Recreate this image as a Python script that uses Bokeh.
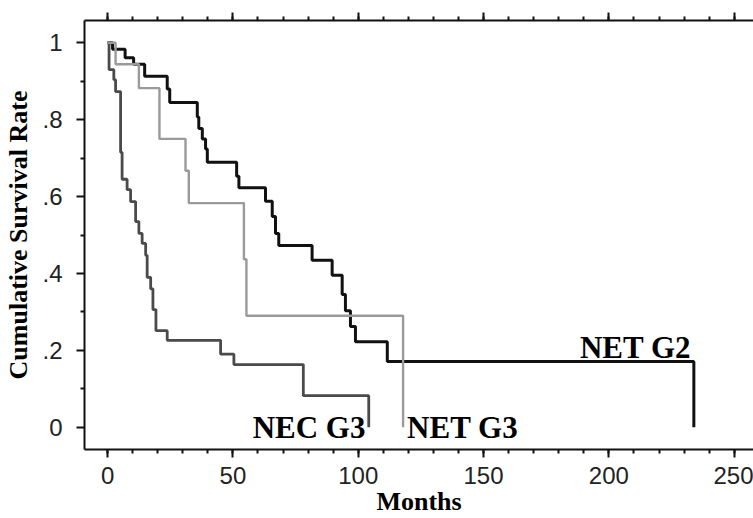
from bokeh.plotting import figure
from bokeh.models import Range1d, LinearAxis, FixedTicker, Label
from bokeh.embed import file_html
from bokeh.resources import INLINE

# ---- data ----
net_g2_months = [0, 2, 7, 10.4, 14.8, 23.8, 24.8, 35.8, 36.4, 37.8, 39.1, 39.8, 40.4,
                 51.5, 52.4, 63.0, 65.7, 67.0, 68.3, 81.6, 89.6, 93.6, 94.9, 96.9,
                 98.9, 111.6, 233.9]
net_g2_surv = [1.0, 0.983, 0.961, 0.944, 0.913, 0.88, 0.845, 0.807, 0.777, 0.750,
               0.724, 0.689, 0.689, 0.653, 0.623, 0.588, 0.548, 0.504, 0.473, 0.434,
               0.395, 0.345, 0.303, 0.262, 0.222, 0.171, 0.0]

net_g3_months = [0, 3.2, 12.5, 20.7, 31.1, 32.4, 54.4, 55.4, 117.9]
net_g3_surv = [1.0, 0.944, 0.882, 0.750, 0.667, 0.583, 0.437, 0.290, 0.0]

nec_g3_months = [0, 0.6, 2.5, 3.2, 5.2, 5.8, 7.8, 9.2, 11.2, 12.5, 13.8, 15.2, 15.8,
                 17.2, 18.1, 19.3, 23.8, 45.1, 50.4, 78.1, 104.2]
nec_g3_surv = [1.0, 0.93, 0.904, 0.873, 0.715, 0.645, 0.618, 0.587, 0.535, 0.504,
               0.478, 0.447, 0.39, 0.36, 0.306, 0.251, 0.226, 0.19, 0.163, 0.082, 0.0]

x_major_ticks = [0, 50, 100, 150, 200, 250]
x_minor_ticks = list(range(0, 260, 10))
y_major_ticks = [0, 0.2, 0.4, 0.6, 0.8, 1.0]
y_minor_ticks = [0.1, 0.3, 0.5, 0.7, 0.9]
y_tick_labels = ["0", ".2", ".4", ".6", ".8", "1"]

x_title = "Months"
y_title = "Cumulative Survival Rate"
group_labels = ["NET G2", "NEC G3", "NET G3"]

# ---- figure ----
p = figure(width=753, height=518, output_backend="svg", toolbar_location=None,
           x_range=Range1d(-9.2, 257.7), y_range=Range1d(-0.058, 1.058),
           x_axis_location=None, y_axis_location=None,
           min_border_left=84, min_border_right=0, min_border_top=20,
           min_border_bottom=10)
p.outline_line_color = None
p.background_fill_color = "white"
p.border_fill_color = "white"
p.grid.visible = False

tick_font = "Liberation Sans"
title_font = "Liberation Serif"


def style_axis(ax):
    ax.axis_line_color = "#111111"
    ax.axis_line_width = 2
    ax.major_tick_line_color = "#111111"
    ax.major_tick_line_width = 2
    ax.minor_tick_line_color = "#111111"
    ax.minor_tick_line_width = 2
    ax.major_tick_in = 0
    ax.major_tick_out = 8
    ax.minor_tick_in = 0
    ax.minor_tick_out = 4
    ax.major_label_text_font = tick_font
    ax.major_label_text_font_size = "24px"
    ax.major_label_text_color = "#222222"
    ax.axis_label_text_font = title_font
    ax.axis_label_text_font_style = "bold"
    ax.axis_label_text_font_size = "26px"
    ax.axis_label_text_color = "#000000"


xaxis = LinearAxis(ticker=FixedTicker(ticks=x_major_ticks, minor_ticks=x_minor_ticks),
                   axis_label=x_title)
style_axis(xaxis)
xaxis.major_label_standoff = 9
xaxis.axis_label_standoff = 0
p.add_layout(xaxis, "below")

# top spine with outward ticks only (labels not drawn)
top = LinearAxis(ticker=FixedTicker(ticks=x_major_ticks, minor_ticks=x_minor_ticks))
style_axis(top)
top.major_label_text_font_size = "0px"
top.major_label_text_color = None
top.major_label_standoff = 0
p.add_layout(top, "above")

yaxis = LinearAxis(ticker=FixedTicker(ticks=y_major_ticks, minor_ticks=y_minor_ticks),
                   axis_label=y_title,
                   major_label_overrides=dict(zip(y_major_ticks, y_tick_labels)))
style_axis(yaxis)
yaxis.major_label_standoff = 14
yaxis.axis_label_standoff = 6
p.add_layout(yaxis, "left")

# ---- curves ----
p.step(net_g2_months, net_g2_surv, mode="after", line_color="#111111", line_width=3)
p.step(nec_g3_months, nec_g3_surv, mode="after", line_color="#4a4a4a", line_width=2.8)
p.step(net_g3_months, net_g3_surv, mode="after", line_color="#9a9a9a", line_width=2.4)

# ---- group labels ----
label_style = dict(text_font=title_font, text_font_style="bold",
                   text_font_size="31px", text_color="#000000",
                   text_baseline="alphabetic")
p.add_layout(Label(x=232.8, y=0.207, text=group_labels[0], text_align="right", **label_style))
p.add_layout(Label(x=102.9, y=0.0, text=group_labels[1], text_align="right", **label_style))
p.add_layout(Label(x=119.5, y=0.0, text=group_labels[2], text_align="left", **label_style))

open("out.html", "w").write(file_html(p, INLINE))
